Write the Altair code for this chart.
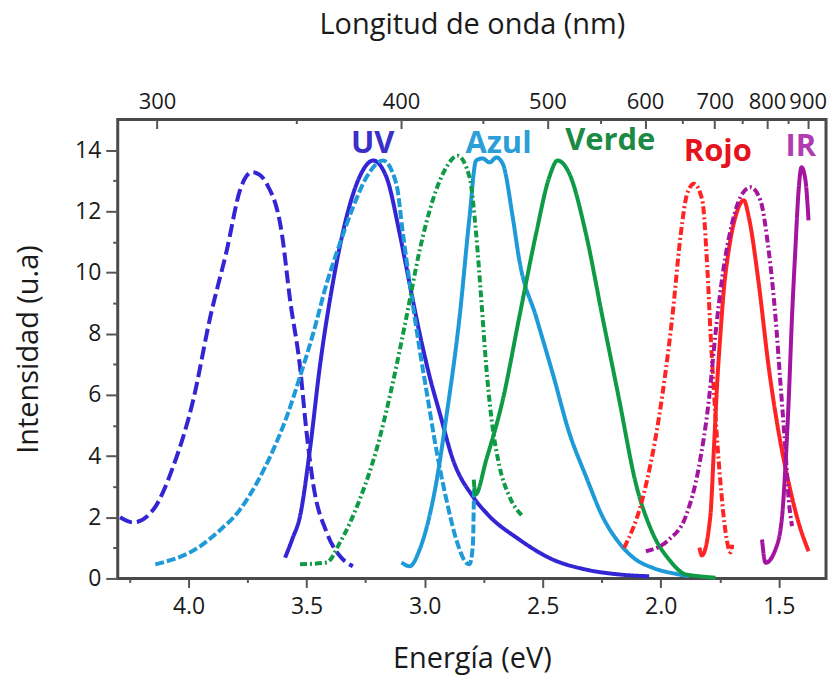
import altair as alt
import pandas as pd

# ---------------- data ----------------
# Energy (eV) and intensity (a.u.) of every curve
uv_exc_E = [4.29, 4.234, 4.149, 4.065, 3.980, 3.908, 3.838, 3.782, 3.755, 3.732, 3.700, 3.669, 3.605, 3.570, 3.528, 3.500, 3.473, 3.415, 3.359, 3.304]
uv_exc_I = [2.00, 1.83, 2.25, 3.66, 5.84, 8.55, 10.73, 12.69, 13.15, 13.28, 13.20, 12.90, 11.28, 9.10, 6.92, 4.76, 3.13, 1.50, 0.73, 0.40]

uv_em_E = [3.591, 3.560, 3.528, 3.486, 3.444, 3.389, 3.331, 3.276, 3.218, 3.162, 3.106, 3.063, 3.021, 2.979, 2.936, 2.880, 2.796, 2.739, 2.599, 2.458, 2.317, 2.176, 2.049]
uv_em_I = [0.68, 1.30, 2.03, 4.21, 6.92, 9.65, 11.81, 13.12, 13.66, 13.12, 11.28, 9.60, 8.00, 6.60, 5.40, 3.88, 2.68, 2.14, 1.27, 0.62, 0.29, 0.13, 0.07]

azul_exc_E = [4.141, 3.951, 3.880, 3.782, 3.711, 3.641, 3.584, 3.528, 3.472, 3.415, 3.359, 3.303, 3.246, 3.176, 3.120, 3.092, 3.063, 3.021, 2.986, 2.958, 2.908, 2.866, 2.824, 2.810, 2.796, 2.791]
azul_exc_I = [0.46, 1.05, 1.49, 2.25, 3.12, 4.21, 5.29, 6.60, 8.01, 9.64, 10.95, 12.14, 13.12, 13.66, 12.90, 11.27, 9.64, 7.47, 5.84, 4.53, 2.58, 1.27, 0.51, 0.46, 1.05, 2.90]

azul_em_E = [3.098, 3.063, 3.021, 2.951, 2.908, 2.852, 2.810, 2.782, 2.755, 2.725, 2.696, 2.669, 2.627, 2.599, 2.528, 2.458, 2.387, 2.317, 2.247, 2.176, 2.106, 2.035, 1.923, 1.880]
azul_em_I = [0.52, 0.40, 0.95, 3.12, 5.29, 8.55, 11.81, 13.66, 13.73, 13.60, 13.76, 13.55, 11.81, 10.40, 8.55, 6.71, 4.75, 3.34, 2.03, 1.16, 0.62, 0.35, 0.13, 0.07]

verde_exc_E = [3.528, 3.415, 3.359, 3.275, 3.204, 3.135, 3.077, 3.021, 2.966, 2.908, 2.861, 2.810, 2.782, 2.760, 2.739, 2.718, 2.683, 2.641, 2.585]
verde_exc_I = [0.46, 0.52, 1.17, 2.58, 4.21, 6.39, 8.55, 10.73, 12.36, 13.44, 13.82, 13.12, 11.27, 9.10, 6.92, 5.29, 3.66, 2.68, 2.03]

verde_em_E = [2.792, 2.785, 2.739, 2.669, 2.599, 2.528, 2.472, 2.437, 2.387, 2.317, 2.247, 2.176, 2.106, 2.035, 1.965, 1.894, 1.867, 1.768]
verde_em_I = [3.23, 2.74, 3.88, 5.84, 8.55, 11.27, 13.12, 13.66, 13.23, 11.27, 8.55, 5.84, 3.12, 1.49, 0.62, 0.13, 0.10, 0.02]

rojo_exc_E = [2.155, 2.078, 2.007, 1.951, 1.915, 1.888, 1.859, 1.824, 1.803, 1.789, 1.768, 1.747, 1.725, 1.704, 1.697]
rojo_exc_I = [1.00, 2.58, 5.29, 8.55, 11.27, 12.58, 12.90, 12.36, 10.18, 8.01, 5.29, 3.12, 1.49, 0.85, 1.10]

rojo_em_E = [1.836, 1.826, 1.790, 1.775, 1.761, 1.747, 1.733, 1.712, 1.684, 1.648, 1.627, 1.585, 1.543, 1.500, 1.458, 1.416, 1.374]
rojo_em_I = [1.01, 0.75, 2.03, 4.21, 6.38, 8.01, 9.42, 10.73, 11.81, 12.36, 11.81, 9.64, 6.92, 4.75, 3.12, 1.82, 0.89]

ir_exc_E = [2.063, 1.965, 1.894, 1.838, 1.796, 1.768, 1.733, 1.698, 1.662, 1.620, 1.578, 1.543, 1.514, 1.493, 1.472, 1.458, 1.444]
ir_exc_I = [0.89, 1.27, 2.03, 3.66, 5.84, 8.01, 10.18, 11.60, 12.47, 12.79, 12.36, 10.73, 8.55, 6.38, 4.21, 2.58, 1.71]

ir_em_E = [1.571, 1.556, 1.514, 1.486, 1.472, 1.458, 1.444, 1.430, 1.416, 1.404, 1.387, 1.374]
ir_em_I = [1.27, 0.51, 0.95, 2.03, 3.66, 5.84, 8.55, 10.73, 12.69, 13.44, 13.01, 11.70]

# series labels
label_text = ["UV", "Azul", "Verde", "Rojo", "IR"]
label_E = [3.22, 2.687, 2.214, 1.758, 1.407]
label_I = [13.92, 13.92, 13.99, 13.63, 13.82]
label_color = ["#3a30c8", "#2c9fd8", "#1c8a44", "#e5141c", "#b03cb0"]

# axis ticks
energy_major = [4.0, 3.5, 3.0, 2.5, 2.0, 1.5]
energy_minor = [4.25, 3.75, 3.25, 2.75, 2.25, 1.75]
nm_major = [300, 400, 500, 600, 700, 800, 900]
nm_minor = [350, 450, 550, 650, 750, 850]
int_major = [0, 2, 4, 6, 8, 10, 12, 14]
int_minor = [1, 3, 5, 7, 9, 11, 13]

# ---------------- build tables ----------------
curves = [
    ("UV exc", uv_exc_E, uv_exc_I, "#3324d4", [13, 5]),
    ("UV em", uv_em_E, uv_em_I, "#3324d4", [1, 0]),
    ("Azul exc", azul_exc_E, azul_exc_I, "#1f9ad8", [9, 3]),
    ("Azul em", azul_em_E, azul_em_I, "#1f9ad8", [1, 0]),
    ("Verde exc", verde_exc_E, verde_exc_I, "#0f9b45", [7, 3, 2, 3]),
    ("Verde em", verde_em_E, verde_em_I, "#0f9b45", [1, 0]),
    ("Rojo exc", rojo_exc_E, rojo_exc_I, "#ff2424", [8, 3, 2, 3]),
    ("Rojo em", rojo_em_E, rojo_em_I, "#ff2424", [1, 0]),
    ("IR exc", ir_exc_E, ir_exc_I, "#a3159f", [8, 3, 2, 3]),
    ("IR em", ir_em_E, ir_em_I, "#a3159f", [1, 0]),
]
rows = []
for name, es, ins, _, _ in curves:
    for k, (e, i) in enumerate(zip(es, ins)):
        rows.append({"curva": name, "E": e, "I": i, "k": k})
df = pd.DataFrame(rows)
names = [c[0] for c in curves]
colors = [c[3] for c in curves]
dashes = [c[4] for c in curves]

lab_df = pd.DataFrame({"texto": label_text, "E": label_E, "I": label_I, "col": label_color})

FONT = "Open Sans"
xs = alt.Scale(domain=[1.3, 4.3], reverse=True, nice=False, zero=False)
ys = alt.Scale(domain=[0, 15], nice=False, zero=False)
common = dict(grid=False, domain=False, tickColor="#555555", tickWidth=2,
              labelFont=FONT, labelColor="#1a1a1a", titleFont=FONT,
              titleColor="#1a1a1a", titleFontWeight="normal",
              labelOverlap=False, labelFlush=False)

lines = alt.Chart(df).mark_line(strokeWidth=4, interpolate="monotone").encode(
    x=alt.X("E:Q", scale=xs, axis=alt.Axis(
        orient="bottom", values=energy_major, format=".1f", tickSize=9,
        labelPadding=8, labelFontSize=23, title="Energía (eV)", titleFontSize=29,
        titleX=355, titleY=89, titleBaseline="alphabetic", titleAlign="center", **common)),
    y=alt.Y("I:Q", scale=ys, axis=alt.Axis(
        orient="left", values=int_major, tickSize=12, labelPadding=5, labelFontSize=23,
        title="Intensidad (u.a)", titleFontSize=29, titleX=-80, titleY=230, titleAngle=-90,
        titleBaseline="alphabetic", titleAlign="center", **common)),
    color=alt.Color("curva:N", scale=alt.Scale(domain=names, range=colors), legend=None),
    strokeDash=alt.StrokeDash("curva:N", scale=alt.Scale(domain=names, range=dashes), legend=None),
    order=alt.Order("k:Q"),
)

labels = alt.Chart(lab_df).mark_text(font=FONT, fontSize=31, fontWeight="bold",
                                      align="center", baseline="alphabetic").encode(
    x=alt.X("E:Q", scale=xs, axis=alt.Axis(orient="bottom", values=energy_minor, labels=False,
                                            tickSize=4, title="", **common)),
    y=alt.Y("I:Q", scale=ys, axis=alt.Axis(orient="left", values=int_minor, labels=False,
                                            tickSize=5, title="", **common)),
    text="texto:N",
    color=alt.Color("col:N", scale=None),
)

top_major = alt.Chart(lab_df).mark_point(opacity=0).encode(
    x=alt.X("E:Q", scale=xs, axis=alt.Axis(
        orient="top", values=[1240.0 / l for l in nm_major],
        labelExpr="format(round(1240/datum.value), 'd')", tickSize=9, offset=-9,
        labelPadding=6, labelFontSize=22, title="Longitud de onda (nm)", titleFontSize=29,
        titleX=355, titleY=-95, titleBaseline="alphabetic", titleAlign="center", **common)),
    y=alt.Y("I:Q", scale=ys, axis=None),
)

top_minor = alt.Chart(lab_df).mark_point(opacity=0).encode(
    x=alt.X("E:Q", scale=xs, axis=alt.Axis(
        orient="top", values=[1240.0 / l for l in nm_minor], labels=False,
        tickSize=4, offset=-4, title="", **common)),
    y=alt.Y("I:Q", scale=ys, axis=None),
)

chart = alt.layer(lines, labels, top_major, top_minor).resolve_axis(
    x="independent", y="independent"
).properties(
    width=710, height=460,
    autosize=alt.AutoSizeParams(type="none"),
    padding={"left": 110, "top": 111, "right": 5, "bottom": 98},
).configure_view(stroke="#4a4a4a", strokeWidth=3)

chart.save("out.html", embed_options={"renderer": "svg", "actions": False})
